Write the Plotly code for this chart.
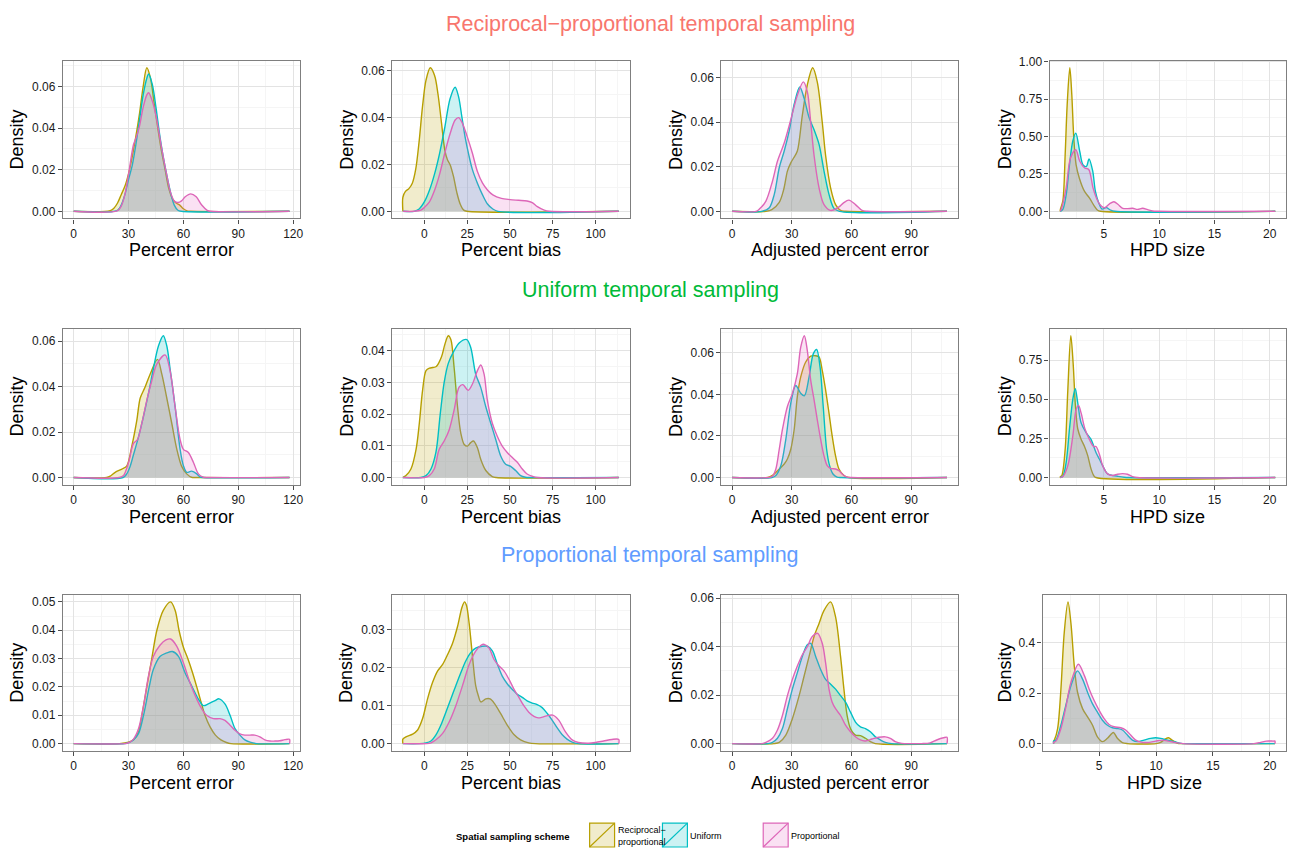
import plotly.graph_objects as go

# ---------------- DATA (densities) ----------------
SERIES = ["Reciprocal\u2212proportional", "Uniform", "Proportional"]
ROW_TITLES = ["Reciprocal\u2212proportional temporal sampling",
              "Uniform temporal sampling",
              "Proportional temporal sampling"]
X_TITLES = ["Percent error", "Percent bias", "Adjusted percent error", "HPD size"]

# Row 1 (reciprocal-proportional temporal sampling)
r1_err_rp_x = [0, 20, 22, 24, 26, 28, 30, 32, 34, 36, 38, 40, 42, 44, 46, 48, 50, 52, 54, 56, 58, 60, 62, 64, 118]
r1_err_rp_y = [0, 0.0003, 0.0015, 0.004, 0.008, 0.012, 0.018, 0.026, 0.036, 0.047, 0.060, 0.069, 0.064, 0.052, 0.040, 0.029, 0.020, 0.011, 0.006, 0.004, 0.003, 0.0012, 0.0002, 0, 0]
r1_err_un_x = [0, 24, 26, 28, 30, 32, 34, 36, 38, 40, 41, 43, 45, 47, 49, 51, 53, 55, 57, 59, 118]
r1_err_un_y = [0, 0.0005, 0.003, 0.008, 0.0153, 0.022, 0.032, 0.044, 0.056, 0.064, 0.066, 0.061, 0.050, 0.037, 0.026, 0.017, 0.009, 0.003, 0.0005, 0, 0]
r1_err_pr_x = [0, 24, 26, 28, 30, 32.7, 34, 36, 38, 40, 41, 43, 45, 47, 49, 51, 53, 55, 57, 59, 61, 64, 67, 70, 73, 75, 118]
r1_err_pr_y = [0, 0.0003, 0.0025, 0.008, 0.0177, 0.032, 0.035, 0.041, 0.050, 0.056, 0.057, 0.053, 0.046, 0.036, 0.026, 0.017, 0.009, 0.005, 0.0042, 0.005, 0.007, 0.0084, 0.007, 0.003, 0.0005, 0, 0]

r1_bias_rp_x = [-12.5, -11, -9, -7, -5, -3, -1, 1, 3.5, 6, 8, 10, 12, 13.5, 15, 17, 19, 21, 23, 25, 113.5]
r1_bias_rp_y = [0.006, 0.0085, 0.0097, 0.012, 0.018, 0.030, 0.045, 0.056, 0.0613, 0.058, 0.050, 0.038, 0.026, 0.022, 0.020, 0.015, 0.008, 0.003, 0.0005, 0, 0]
r1_bias_un_x = [-12.5, -6, -3, 0, 3, 6, 9, 12, 15, 18, 20, 22, 24, 26, 28, 31, 34, 37, 40, 43, 113.5]
r1_bias_un_y = [0, 0, 0.001, 0.004, 0.009, 0.016, 0.025, 0.036, 0.048, 0.053, 0.049, 0.040, 0.031, 0.024, 0.018, 0.012, 0.007, 0.003, 0.001, 0, 0]
r1_bias_pr_x = [-12.5, -6, -2, 0, 3, 6, 9, 12, 15, 18, 20, 22, 25, 28, 31, 34, 37, 40, 45, 50, 55, 60, 63, 66, 70, 73, 113.5]
r1_bias_pr_y = [0, 0, 0.0005, 0.0016, 0.004, 0.009, 0.016, 0.025, 0.033, 0.039, 0.040, 0.038, 0.032, 0.025, 0.017, 0.012, 0.009, 0.007, 0.0055, 0.005, 0.0047, 0.0044, 0.0037, 0.002, 0.0005, 0, 0]

r1_adj_rp_x = [0, 17, 20, 23.7, 26, 27.8, 29.5, 31, 32.8, 35.3, 37.8, 40.5, 42.8, 45.3, 47, 49.5, 52, 54.5, 57, 108]
r1_adj_rp_y = [0, 0, 0.0008, 0.004, 0.010, 0.018, 0.0217, 0.024, 0.027, 0.043, 0.0566, 0.0643, 0.058, 0.040, 0.025, 0.0105, 0.003, 0.0004, 0, 0]
r1_adj_un_x = [0, 15, 18.7, 21.2, 23.7, 26.2, 28.7, 31.2, 34, 36.2, 38.7, 41.2, 43.7, 46.2, 48.7, 51.2, 54, 108]
r1_adj_un_y = [0, 0, 0.0016, 0.0076, 0.0195, 0.027, 0.036, 0.048, 0.0557, 0.0506, 0.042, 0.0365, 0.030, 0.018, 0.0076, 0.0013, 0, 0]
r1_adj_pr_x = [0, 12, 13.7, 17, 20.3, 22.8, 26.2, 29.5, 32.8, 35.8, 37.8, 39.5, 41.2, 43.7, 46.2, 49.5, 53.7, 56, 58.7, 62, 65.3, 68, 108]
r1_adj_pr_y = [0, 0, 0.001, 0.0046, 0.0135, 0.0224, 0.0306, 0.041, 0.052, 0.058, 0.0536, 0.040, 0.025, 0.0105, 0.003, 0.0004, 0.002, 0.0038, 0.005, 0.003, 0.0004, 0, 0]

r1_hpd_rp_x = [1.05, 1.28, 1.49, 1.67, 1.91, 2.09, 2.27, 2.48, 2.78, 3.23, 3.68, 4.13, 4.43, 4.7, 20.5]
r1_hpd_rp_y = [0.01, 0.07, 0.38, 0.71, 0.96, 0.78, 0.49, 0.31, 0.22, 0.135, 0.09, 0.035, 0.007, 0, 0]
r1_hpd_un_x = [1.05, 1.28, 1.58, 1.88, 2.18, 2.45, 2.81, 3.11, 3.41, 3.65, 3.98, 4.22, 4.52, 4.82, 5.2, 5.6, 6.0, 20.5]
r1_hpd_un_y = [0, 0.013, 0.11, 0.31, 0.47, 0.523, 0.40, 0.31, 0.30, 0.35, 0.27, 0.135, 0.058, 0.015, 0.025, 0.008, 0, 0]
r1_hpd_pr_x = [1.05, 1.18, 1.58, 1.97, 2.45, 2.81, 3.26, 3.62, 4.01, 4.31, 4.61, 5.06, 5.5, 5.9, 6.26, 6.7, 7.15, 7.6, 8.05, 8.5, 8.95, 9.4, 9.9, 20.5]
r1_hpd_pr_y = [0, 0.024, 0.157, 0.357, 0.412, 0.335, 0.29, 0.28, 0.157, 0.09, 0.047, 0.024, 0.05, 0.064, 0.047, 0.02, 0.018, 0.02, 0.013, 0.02, 0.011, 0.002, 0, 0]

# Row 2 (uniform temporal sampling)
r2_err_rp_x = [0, 18, 20, 22.7, 26.4, 29, 31.8, 34.5, 36.4, 39, 41.8, 45.8, 48.2, 50.9, 53.6, 56.4, 59, 61.8, 64.5, 67, 118]
r2_err_rp_y = [0, 0, 0.0006, 0.0023, 0.0037, 0.005, 0.0138, 0.025, 0.035, 0.0397, 0.0455, 0.052, 0.0455, 0.035, 0.024, 0.0124, 0.005, 0.0016, 0.0001, 0, 0]
r2_err_un_x = [0, 27, 29, 30.9, 32.7, 35.5, 38.2, 40.9, 43.6, 46.4, 49, 50.9, 52.7, 55.5, 58.2, 60, 61.8, 64.5, 67.3, 69, 71, 118]
r2_err_un_y = [0, 0, 0.0016, 0.005, 0.010, 0.018, 0.027, 0.037, 0.048, 0.058, 0.0624, 0.058, 0.048, 0.031, 0.0124, 0.0052, 0.0023, 0.0028, 0.0016, 0.0003, 0, 0]
r2_err_pr_x = [0, 25, 27.3, 30, 32.7, 34.9, 37.3, 40, 42.7, 45.5, 50, 52.7, 55.5, 58.2, 60, 62.7, 65.5, 68.2, 70.9, 73, 118]
r2_err_pr_y = [0, 0, 0.0009, 0.0066, 0.015, 0.0167, 0.024, 0.034, 0.0426, 0.05, 0.054, 0.047, 0.031, 0.0167, 0.0124, 0.011, 0.0066, 0.0016, 0.0001, 0, 0]

r2_bias_rp_x = [-12.5, -10.7, -7.8, -4.8, -2.9, -1, 1, 3, 5, 7, 10, 12, 14, 15.5, 17.4, 19.4, 21.3, 23.3, 25.2, 27.1, 28.7, 31, 32.9, 35.9, 39.7, 42, 113.5]
r2_bias_rp_y = [0, 0.0006, 0.0027, 0.0089, 0.0171, 0.0275, 0.0337, 0.0345, 0.0347, 0.035, 0.038, 0.042, 0.0447, 0.0435, 0.0347, 0.0223, 0.014, 0.0104, 0.0099, 0.011, 0.0115, 0.0094, 0.0058, 0.0022, 0.0003, 0, 0]
r2_bias_un_x = [-12.5, -2, 1, 3.9, 6.8, 9.3, 11.6, 14, 17.4, 20.5, 24.8, 27.1, 30, 32.9, 35.9, 38.8, 41.7, 44.6, 47.5, 50.4, 53.3, 56.2, 59.1, 62, 113.5]
r2_bias_un_y = [0, 0, 0.0006, 0.0027, 0.008, 0.020, 0.030, 0.036, 0.040, 0.0425, 0.0435, 0.041, 0.0326, 0.0285, 0.0223, 0.0171, 0.012, 0.0068, 0.0042, 0.0035, 0.0022, 0.0006, 0.0001, 0, 0]
r2_bias_pr_x = [-12.5, 0, 2.9, 5.8, 8.7, 11.6, 14.5, 17.4, 20.3, 22.5, 25.6, 28.1, 31, 33, 34.9, 36.8, 39.7, 42.6, 45.5, 48.4, 51.4, 54.3, 57.2, 60, 63, 66, 113.5]
r2_bias_pr_y = [0, 0, 0.0006, 0.0027, 0.0089, 0.0115, 0.015, 0.0213, 0.0285, 0.0293, 0.0275, 0.0295, 0.0337, 0.0355, 0.0326, 0.0244, 0.0171, 0.013, 0.0099, 0.0079, 0.0063, 0.0048, 0.0027, 0.0011, 0.0004, 0, 0]

r2_adj_rp_x = [0, 18, 20.3, 23.7, 26.2, 27.8, 29.5, 31.2, 32.8, 34.5, 37, 39.5, 42, 43.7, 45.3, 47, 48.7, 50.3, 52, 53.7, 56.2, 58.7, 108]
r2_adj_rp_y = [0, 0, 0.001, 0.0041, 0.0065, 0.0089, 0.0136, 0.0231, 0.039, 0.0484, 0.0556, 0.0584, 0.0586, 0.058, 0.0516, 0.0421, 0.031, 0.020, 0.0104, 0.0041, 0.001, 0, 0]
r2_adj_un_x = [0, 20, 22, 24.5, 27, 29.5, 32, 34.5, 36.3, 38.7, 40.8, 42.5, 44.2, 45.8, 47.5, 49, 50.7, 52.8, 55, 108]
r2_adj_un_y = [0, 0, 0.001, 0.0057, 0.0184, 0.0358, 0.0443, 0.0405, 0.0393, 0.0484, 0.0595, 0.0616, 0.0532, 0.0342, 0.0136, 0.0057, 0.0017, 0.0002, 0, 0]
r2_adj_pr_x = [0, 18.5, 20.3, 22, 23.7, 25.3, 27.8, 30.3, 32.8, 34.5, 36.3, 37.8, 39.5, 41.2, 42.8, 44.5, 46.2, 47.8, 49.5, 52, 53.7, 55.3, 57.8, 60, 108]
r2_adj_pr_y = [0, 0, 0.0006, 0.0041, 0.0136, 0.0231, 0.0342, 0.0405, 0.05, 0.0627, 0.0682, 0.0611, 0.0469, 0.0374, 0.0279, 0.0184, 0.0104, 0.0057, 0.0044, 0.0041, 0.0033, 0.0017, 0.0002, 0, 0]

r2_hpd_rp_x = [1.05, 1.19, 1.49, 1.73, 2.0, 2.21, 2.42, 2.63, 2.93, 3.23, 3.53, 3.83, 4.07, 4.28, 20.5]
r2_hpd_rp_y = [0.005, 0.013, 0.18, 0.56, 0.906, 0.73, 0.455, 0.31, 0.245, 0.2, 0.14, 0.055, 0.013, 0, 0]
r2_hpd_un_x = [1.05, 1.28, 1.58, 1.88, 2.18, 2.4, 2.63, 2.93, 3.38, 3.83, 4.28, 4.58, 4.88, 5.33, 5.78, 6.23, 6.83, 7.2, 20.5]
r2_hpd_un_y = [0, 0.008, 0.097, 0.31, 0.5, 0.567, 0.476, 0.35, 0.287, 0.244, 0.16, 0.118, 0.076, 0.023, 0.013, 0.008, 0.002, 0, 0]
r2_hpd_pr_x = [1.05, 1.28, 1.73, 2.18, 2.48, 2.7, 2.93, 3.29, 3.68, 4.07, 4.28, 4.58, 4.88, 5.33, 5.78, 6.23, 6.68, 7.13, 7.58, 8.03, 20.5]
r2_hpd_pr_y = [0, 0.006, 0.076, 0.265, 0.434, 0.461, 0.413, 0.308, 0.244, 0.198, 0.198, 0.15, 0.076, 0.023, 0.013, 0.021, 0.025, 0.021, 0.006, 0, 0]

# Row 3 (proportional temporal sampling)
r3_err_rp_x = [0, 25, 30, 33, 35.5, 37.3, 40, 42.7, 45.5, 49, 53, 55.5, 57.6, 60, 62.4, 65, 67.3, 69.5, 71.8, 74.5, 77.5, 80.5, 83.5, 86, 118]
r3_err_rp_y = [0, 0, 0.0005, 0.0015, 0.0042, 0.010, 0.020, 0.030, 0.040, 0.047, 0.050, 0.047, 0.040, 0.034, 0.030, 0.025, 0.020, 0.015, 0.010, 0.006, 0.003, 0.0013, 0.0004, 0, 0]
r3_err_un_x = [0, 28, 30, 32.7, 35.5, 38.2, 41.3, 43.6, 47.3, 50.9, 54, 57.3, 60.9, 64.5, 68.2, 70.9, 73.6, 77.3, 79.5, 82.7, 85.5, 88.2, 90.9, 93.6, 96.4, 100, 118]
r3_err_un_y = [0, 0, 0.0003, 0.0013, 0.0036, 0.010, 0.020, 0.0262, 0.0308, 0.032, 0.0325, 0.0308, 0.025, 0.0204, 0.0157, 0.0134, 0.014, 0.0152, 0.0158, 0.014, 0.010, 0.0053, 0.003, 0.0013, 0.0005, 0, 0]
r3_err_pr_x = [0, 28, 30, 32.7, 35.5, 38.2, 40.9, 43.6, 47.3, 50.5, 53, 56.4, 60, 63.6, 67.3, 70, 72.7, 76.4, 80, 82.7, 85.5, 88.2, 90.9, 93.6, 96.4, 99, 101.8, 104.5, 107.3, 110, 112.7, 115.5, 118]
r3_err_pr_y = [0, 0, 0.0003, 0.0016, 0.0053, 0.0134, 0.0238, 0.0308, 0.0348, 0.0366, 0.0369, 0.0343, 0.0285, 0.0215, 0.0157, 0.0123, 0.010, 0.0088, 0.0088, 0.0082, 0.0065, 0.0047, 0.0034, 0.003, 0.003, 0.003, 0.0024, 0.0013, 0.0009, 0.0009, 0.001, 0.0014, 0.0015]

r3_bias_rp_x = [-12.5, -10.7, -6.8, -3.9, -1, 1.9, 4.8, 7.8, 10.7, 13.6, 16.5, 19.4, 22, 23.5, 24.6, 26.2, 28.1, 30, 31.5, 33, 35.9, 38.4, 41.1, 44.6, 48.4, 52.3, 56.2, 61, 65, 113.5]
r3_bias_rp_y = [0.0012, 0.0018, 0.0025, 0.0036, 0.0066, 0.0118, 0.0161, 0.0192, 0.0209, 0.0235, 0.0265, 0.0309, 0.036, 0.0374, 0.0365, 0.0317, 0.0231, 0.0153, 0.0127, 0.011, 0.0118, 0.0118, 0.0105, 0.0079, 0.0049, 0.0024, 0.001, 0.0002, 0, 0]
r3_bias_un_x = [-12.5, -3, 1, 3.9, 6.8, 9.7, 12.6, 15.5, 18.4, 21.3, 24.2, 27.1, 30, 33.9, 36.8, 39.7, 42.6, 45.5, 48.4, 51.4, 54.3, 57.2, 60, 63, 65.9, 68.8, 71.7, 74.6, 77.5, 80.4, 83.3, 86.3, 90, 113.5]
r3_bias_un_y = [0, 0, 0.0002, 0.0007, 0.0023, 0.0049, 0.0083, 0.0118, 0.0153, 0.0187, 0.0218, 0.024, 0.0252, 0.0257, 0.0257, 0.0245, 0.021, 0.0178, 0.0158, 0.0143, 0.013, 0.0122, 0.0113, 0.0107, 0.0103, 0.0095, 0.008, 0.0062, 0.0042, 0.0024, 0.0012, 0.0004, 0, 0]
r3_bias_pr_x = [-12.5, 1, 3.9, 6.8, 10.7, 14.5, 18.4, 22.3, 26.2, 30, 32.9, 35, 37.8, 40.7, 43.6, 46.5, 49.4, 52.3, 55.2, 58.1, 61, 64, 66.5, 69, 72, 75, 78.5, 82.4, 86.3, 90, 96, 100, 104.7, 109.5, 113.5]
r3_bias_pr_y = [0, 0, 0.0002, 0.001, 0.0027, 0.0057, 0.010, 0.0153, 0.0209, 0.0244, 0.0259, 0.0262, 0.0252, 0.0222, 0.0205, 0.0192, 0.017, 0.0144, 0.0122, 0.010, 0.0083, 0.0072, 0.0068, 0.007, 0.0074, 0.0075, 0.0062, 0.0031, 0.001, 0.0003, 0.0001, 0.0003, 0.0007, 0.0011, 0.0011]

r3_adj_rp_x = [0, 21, 23.7, 27, 30.3, 33.7, 36.2, 38.7, 41.2, 43.7, 46.2, 49.5, 52, 54.5, 56.2, 57.8, 59.5, 62, 64.5, 67, 69.5, 72, 108]
r3_adj_rp_y = [0, 0, 0.0005, 0.0035, 0.0103, 0.0198, 0.0279, 0.036, 0.0442, 0.0496, 0.055, 0.0585, 0.0523, 0.036, 0.0225, 0.0116, 0.0062, 0.0035, 0.0033, 0.0022, 0.0008, 0, 0]
r3_adj_un_x = [0, 18, 20.3, 22.8, 25.3, 27.8, 30.3, 32.8, 35.3, 37.8, 39.5, 42, 44.5, 47, 49.5, 52, 54.5, 57, 59.5, 62, 64.5, 67, 69.5, 72, 74.5, 77, 80.3, 108]
r3_adj_un_y = [0, 0, 0.0005, 0.0022, 0.0062, 0.0144, 0.0225, 0.0293, 0.036, 0.0408, 0.0414, 0.036, 0.0306, 0.0265, 0.0245, 0.0225, 0.0198, 0.0171, 0.013, 0.0089, 0.0069, 0.0062, 0.0049, 0.0028, 0.0015, 0.0005, 0, 0]
r3_adj_pr_x = [0, 15, 17, 20.3, 22.8, 25.3, 27.8, 30.3, 32.8, 35.3, 37.8, 40.3, 43, 45.3, 47, 48.7, 50.3, 52, 54.5, 57, 59.5, 62, 64.5, 67, 70.3, 73.7, 77, 79.5, 82, 85.3, 90.3, 95.3, 99.5, 102.8, 106.2, 108]
r3_adj_pr_y = [0, 0, 0.0005, 0.0022, 0.0056, 0.0116, 0.0198, 0.0265, 0.032, 0.0367, 0.040, 0.0442, 0.0455, 0.0414, 0.0333, 0.0225, 0.0171, 0.0144, 0.0116, 0.0076, 0.0049, 0.0028, 0.0015, 0.0011, 0.0019, 0.0026, 0.0028, 0.0022, 0.0008, 0.0001, 0, 0, 0.0003, 0.0015, 0.0024, 0.0026]

r3_hpd_rp_x = [1.0, 1.06, 1.35, 1.64, 1.93, 2.26, 2.52, 2.81, 3.1, 3.54, 3.98, 4.42, 4.85, 5.29, 5.73, 6.25, 6.6, 7.04, 7.5, 10.0, 10.4, 10.8, 11.1, 11.4, 11.9, 12.3, 20.45]
r3_hpd_rp_y = [0.01, 0.014, 0.06, 0.217, 0.44, 0.563, 0.478, 0.31, 0.204, 0.139, 0.106, 0.073, 0.027, 0.008, 0.021, 0.044, 0.021, 0.004, 0, 0, 0.005, 0.018, 0.023, 0.014, 0.001, 0, 0]
r3_hpd_un_x = [1.0, 1.2, 1.64, 2.07, 2.52, 3.1, 3.54, 3.98, 4.42, 4.85, 5.29, 5.73, 6.17, 6.6, 7.04, 7.48, 7.92, 8.36, 8.94, 9.52, 9.97, 10.4, 11.0, 11.6, 12.2, 12.6, 20.45]
r3_hpd_un_y = [0.01, 0.014, 0.073, 0.152, 0.23, 0.289, 0.256, 0.204, 0.158, 0.125, 0.093, 0.073, 0.063, 0.06, 0.054, 0.034, 0.014, 0.008, 0.014, 0.021, 0.0235, 0.021, 0.014, 0.008, 0.001, 0, 0]
r3_hpd_pr_x = [1.0, 1.2, 1.64, 2.07, 2.52, 3.18, 3.7, 4.12, 4.56, 5.0, 5.44, 5.87, 6.31, 6.9, 7.33, 7.77, 8.21, 8.8, 9.38, 9.96, 10.55, 11.1, 11.7, 12.4, 18.6, 19.2, 19.7, 20.3, 20.45]
r3_hpd_pr_y = [0.005, 0.01, 0.06, 0.145, 0.243, 0.315, 0.27, 0.217, 0.171, 0.132, 0.099, 0.076, 0.067, 0.063, 0.054, 0.034, 0.014, 0.005, 0.005, 0.01, 0.014, 0.01, 0.004, 0, 0, 0.005, 0.01, 0.01, 0.01]

# Tick settings per column (major step) and y tick steps / formats per panel
X_DTICK = [30, 25, 30, 5]
Y_DTICK = [0.02, 0.02, 0.02, 0.25,
           0.02, 0.01, 0.02, 0.25,
           0.01, 0.01, 0.02, 0.2]
Y_FMT = [".2f"] * 11 + [".1f"]

PANEL_DATA = [
    [(r1_err_rp_x, r1_err_rp_y), (r1_err_un_x, r1_err_un_y), (r1_err_pr_x, r1_err_pr_y)],
    [(r1_bias_rp_x, r1_bias_rp_y), (r1_bias_un_x, r1_bias_un_y), (r1_bias_pr_x, r1_bias_pr_y)],
    [(r1_adj_rp_x, r1_adj_rp_y), (r1_adj_un_x, r1_adj_un_y), (r1_adj_pr_x, r1_adj_pr_y)],
    [(r1_hpd_rp_x, r1_hpd_rp_y), (r1_hpd_un_x, r1_hpd_un_y), (r1_hpd_pr_x, r1_hpd_pr_y)],
    [(r2_err_rp_x, r2_err_rp_y), (r2_err_un_x, r2_err_un_y), (r2_err_pr_x, r2_err_pr_y)],
    [(r2_bias_rp_x, r2_bias_rp_y), (r2_bias_un_x, r2_bias_un_y), (r2_bias_pr_x, r2_bias_pr_y)],
    [(r2_adj_rp_x, r2_adj_rp_y), (r2_adj_un_x, r2_adj_un_y), (r2_adj_pr_x, r2_adj_pr_y)],
    [(r2_hpd_rp_x, r2_hpd_rp_y), (r2_hpd_un_x, r2_hpd_un_y), (r2_hpd_pr_x, r2_hpd_pr_y)],
    [(r3_err_rp_x, r3_err_rp_y), (r3_err_un_x, r3_err_un_y), (r3_err_pr_x, r3_err_pr_y)],
    [(r3_bias_rp_x, r3_bias_rp_y), (r3_bias_un_x, r3_bias_un_y), (r3_bias_pr_x, r3_bias_pr_y)],
    [(r3_adj_rp_x, r3_adj_rp_y), (r3_adj_un_x, r3_adj_un_y), (r3_adj_pr_x, r3_adj_pr_y)],
    [(r3_hpd_rp_x, r3_hpd_rp_y), (r3_hpd_un_x, r3_hpd_un_y), (r3_hpd_pr_x, r3_hpd_pr_y)],
]

# ---------------- STYLE / LAYOUT ----------------
W, H = 1295, 848
LINE_COLORS = ["#B79F00", "#00BFC4", "#DD66B8"]
FILL_COLORS = ["rgba(183,159,0,0.2)", "rgba(0,191,196,0.2)", "rgba(228,105,195,0.2)"]
TITLE_COLORS = ["#F8766D", "#00BA38", "#619CFF"]
FONT = "Liberation Sans, Arial, Helvetica, sans-serif"

# panel pixel boxes (left, right) per column and (top, bottom) per row
COL_PX = [(63, 301), (393, 631), (723, 960), (1052, 1289)]
ROW_PX = [(55, 214), (325, 482), (593, 750)]
ROW_TITLE_Y = [18, 286, 553]
XTITLE_Y = [246, 515, 783]
DENSITY_X = [17, 347, 677, 1007]


def fx(p):
    return p / W


def fy(p):
    return 1 - p / H


fig = go.Figure()
layout = dict(width=W, height=H, autosize=False,
              margin=dict(l=0, r=0, t=0, b=0),
              paper_bgcolor="white", plot_bgcolor="white",
              font=dict(family=FONT, color="#1A1A1A"),
              showlegend=False)
annotations = []
shapes = []

for i, series in enumerate(PANEL_DATA):
    r, c = divmod(i, 4)
    left, right = COL_PX[c]
    if i == 11:
        left = 1045
    top, bottom = ROW_PX[r]
    ax = "" if i == 0 else str(i + 1)

    allx = [v for sx, _ in series for v in sx]
    ally = [v for _, sy in series for v in sy]
    x0, x1 = min(allx), max(allx)
    ymax = max(ally)
    pad = 0.05 * (x1 - x0)

    for s, (sx, sy) in enumerate(series):
        xs, ys = list(sx), list(sy)
        if ys[0] != 0:
            xs, ys = [xs[0]] + xs, [0] + ys
        if ys[-1] != 0:
            xs, ys = xs + [xs[-1]], ys + [0]
        fig.add_trace(go.Scatter(
            x=xs, y=ys, mode="lines", name=SERIES[s],
            line=dict(color=LINE_COLORS[s], width=1.4, shape="spline", smoothing=0.9),
            fill="tozeroy", fillcolor=FILL_COLORS[s],
            xaxis="x" + ax, yaxis="y" + ax, hoverinfo="skip", showlegend=False))

    common = dict(showline=True, mirror=True, linecolor="#7F7F7F", linewidth=1.2,
                  ticks="outside", ticklen=4, tickcolor="#4D4D4D", tickwidth=1,
                  showgrid=True, gridcolor="#E3E3E3", gridwidth=1, zeroline=False,
                  tickfont=dict(size=12, color="#1A1A1A", family=FONT),
                  tickmode="linear", tick0=0)
    layout["xaxis" + ax] = dict(common, domain=[fx(left), fx(right)],
                                range=[x0 - pad, x1 + pad], anchor="y" + ax,
                                dtick=X_DTICK[c],
                                minor=dict(showgrid=True, gridcolor="#F5F5F5", tick0=0,
                                           dtick=X_DTICK[c] / 2))
    layout["yaxis" + ax] = dict(common, domain=[fy(bottom), fy(top)],
                                range=[-0.05 * ymax, 1.05 * ymax], anchor="x" + ax,
                                dtick=Y_DTICK[i], tickformat=Y_FMT[i],
                                minor=dict(showgrid=True, gridcolor="#F5F5F5", tick0=0,
                                           dtick=Y_DTICK[i] / 2))

    annotations.append(dict(text=X_TITLES[c], xref="paper", yref="paper",
                            x=fx((left + right) / 2), y=fy(XTITLE_Y[r]),
                            xanchor="center", yanchor="middle", showarrow=False,
                            font=dict(size=18, color="black", family=FONT)))
    annotations.append(dict(text="Density", xref="paper", yref="paper",
                            x=fx(DENSITY_X[c]), y=fy((top + bottom) / 2),
                            xanchor="center", yanchor="middle", showarrow=False,
                            textangle=-90,
                            font=dict(size=18, color="black", family=FONT)))

for r in range(3):
    annotations.append(dict(text=ROW_TITLES[r], xref="paper", yref="paper",
                            x=fx(652), y=fy(ROW_TITLE_Y[r]),
                            xanchor="center", yanchor="middle", showarrow=False,
                            font=dict(size=21.5, color=TITLE_COLORS[r], family=FONT)))

# ---------------- legend (drawn manually, ggplot style) ----------------
annotations.append(dict(text="<b>Spatial sampling scheme</b>", xref="paper", yref="paper",
                        x=fx(573), y=fy(836), xanchor="right", yanchor="middle",
                        showarrow=False, font=dict(size=9.5, color="black", family=FONT)))
KEY_X = [591, 664, 765]
KEY_LABELS = ["Reciprocal\u2212<br>proportional", "Uniform", "Proportional"]
for s in range(3):
    kx = KEY_X[s]
    shapes.append(dict(type="rect", xref="paper", yref="paper",
                       x0=fx(kx), x1=fx(kx + 25), y0=fy(847), y1=fy(823),
                       fillcolor="white", line=dict(width=0), layer="above"))
    shapes.append(dict(type="rect", xref="paper", yref="paper",
                       x0=fx(kx), x1=fx(kx + 25), y0=fy(847), y1=fy(823),
                       fillcolor=FILL_COLORS[s], line=dict(color=LINE_COLORS[s], width=1.2),
                       layer="above"))
    shapes.append(dict(type="line", xref="paper", yref="paper",
                       x0=fx(kx), x1=fx(kx + 25), y0=fy(847), y1=fy(823),
                       line=dict(color=LINE_COLORS[s], width=1.2), layer="above"))
    annotations.append(dict(text=KEY_LABELS[s], xref="paper", yref="paper",
                            x=fx(kx + 26), y=fy(836), xanchor="left", yanchor="middle",
                            align="left", showarrow=False,
                            font=dict(size=9, color="black", family=FONT)))

layout["annotations"] = annotations
layout["shapes"] = shapes
fig.update_layout(**layout)
fig.write_html("out.html",
               config={"displayModeBar": False},
               post_script="document.body.style.margin='0';document.body.style.padding='0';"
                           "document.body.style.overflow='hidden';")
